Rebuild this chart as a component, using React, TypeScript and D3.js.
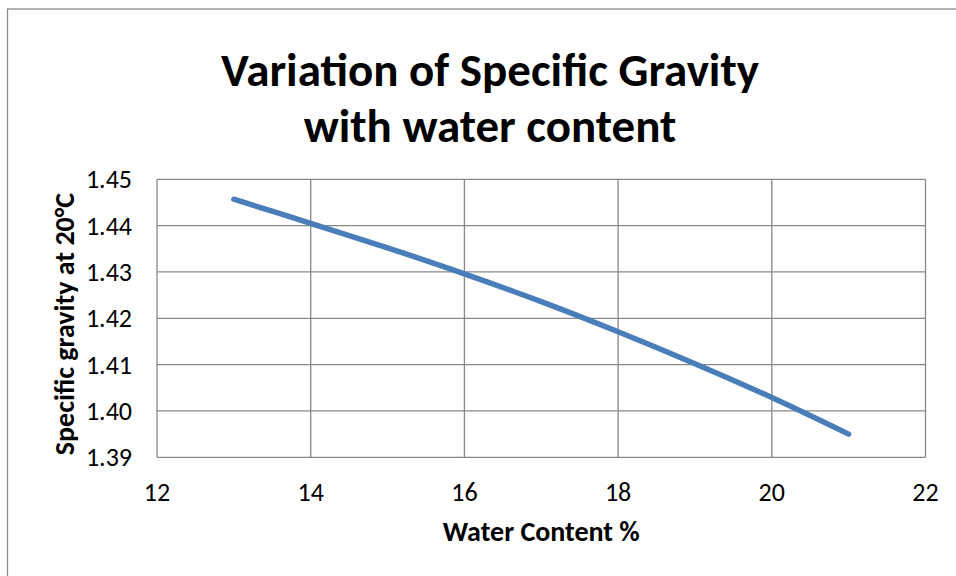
import React from "react";
import * as d3 from "d3";

const waterContent = [13, 14, 15, 16, 17, 18, 19, 20, 21];
const specificGravity = [1.4457, 1.4405, 1.4352, 1.4296, 1.4236, 1.4171, 1.4102, 1.4029, 1.395];
const xTicks = [12, 14, 16, 18, 20, 22];
const yTicks = [1.39, 1.4, 1.41, 1.42, 1.43, 1.44, 1.45];
const titleLines = ["Variation of Specific Gravity", "with water content"];
const xTitle = "Water Content %";
const yTitle = "Specific gravity at 20°C";

export default function App() {
  const W = 956, H = 576;
  const left = 157, right = 925.5, top = 179.3, bottom = 457.3;
  const x = d3.scaleLinear().domain([12, 22]).range([left, right]);
  const y = d3.scaleLinear().domain([1.39, 1.45]).range([bottom, top]);
  const pts = waterContent.map((w, i) => [w, specificGravity[i]] as [number, number]);
  const line = d3.line<[number, number]>().x(d => x(d[0])).y(d => y(d[1])).curve(d3.curveCatmullRom.alpha(0.5));
  const font = "Carlito, Calibri, Lato, 'Open Sans', sans-serif";
  const grid = "#878787";
  return (
    <svg width={W} height={H} style={{ position: "absolute", left: 0, top: 0, background: "#fff" }} fontFamily={font}>
      <rect x={0} y={0} width={W} height={H} fill="#fff" />
      <rect x={7.5} y={9} width={W + 20} height={H + 20} fill="none" stroke="#8c8c8c" strokeWidth={1.3} />
      {titleLines.map((t, i) => (
        <text key={t} x={490} y={86 + i * 56} textAnchor="middle" fontSize={47} fontWeight="bold" fill="#000">{t}</text>
      ))}
      {yTicks.map(v => (
        <line key={"gy" + v} x1={left} x2={right} y1={y(v)} y2={y(v)} stroke={grid} strokeWidth={1.3} />
      ))}
      {xTicks.map(v => (
        <line key={"gx" + v} x1={x(v)} x2={x(v)} y1={top} y2={bottom} stroke={grid} strokeWidth={1.3} />
      ))}
      {yTicks.map(v => (
        <text key={"ty" + v} x={132} y={y(v)} dy="0.35em" textAnchor="end" fontSize={26} fill="#000">{v.toFixed(2)}</text>
      ))}
      {xTicks.map(v => (
        <text key={"tx" + v} x={x(v)} y={501} textAnchor="middle" fontSize={26} fill="#000">{v}</text>
      ))}
      <text x={(left + right) / 2} y={541} textAnchor="middle" fontSize={28} fontWeight="bold" fill="#000">{xTitle}</text>
      <text transform={`translate(74, 324) rotate(-90)`} textAnchor="middle" fontSize={28} fontWeight="bold" fill="#000">{yTitle}</text>
      <path d={line(pts) || ""} fill="none" stroke="#4A7EBB" strokeWidth={5.5} strokeLinecap="round" strokeLinejoin="round" />
    </svg>
  );
}
